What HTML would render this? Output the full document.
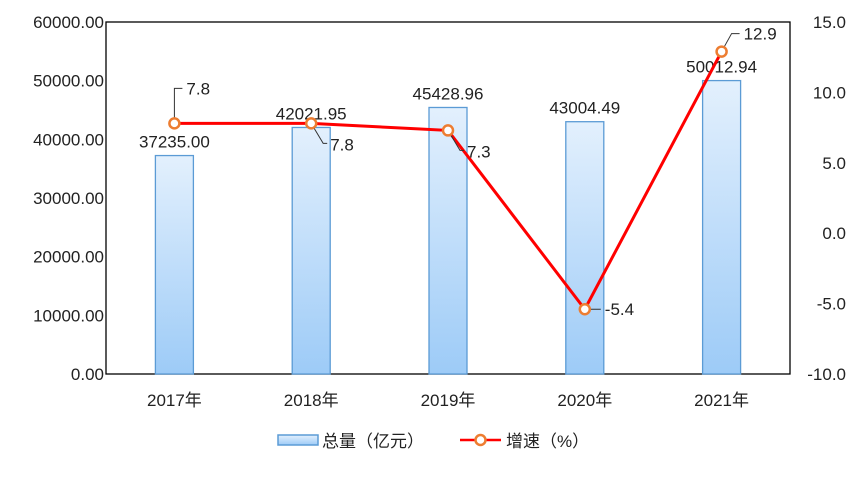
<!DOCTYPE html>
<html><head><meta charset="utf-8"><style>
body{margin:0;background:#fff}
svg text{font-family:"Liberation Sans","Noto Sans CJK SC",sans-serif;fill:#222}
</style></head><body>
<svg id="c" width="865" height="472" xmlns="http://www.w3.org/2000/svg">
<defs><linearGradient id="g" x1="0" y1="0" x2="0" y2="1"><stop offset="0" stop-color="#e3f0fd"/><stop offset="1" stop-color="#9dcbf7"/></linearGradient></defs>
</svg>
<script>
const categories=["2017年","2018年","2019年","2020年","2021年"];
const totals=[37235.00,42021.95,45428.96,43004.49,50012.94];
const growth=[7.8,7.8,7.3,-5.4,12.9];
const leftTicks=[0,10000,20000,30000,40000,50000,60000];
const rightTicks=[-10,-5,0,5,10,15];
const svg=document.getElementById('c');const NS='http://www.w3.org/2000/svg';
function mk(t,a,p){const e=document.createElementNS(NS,t);for(const k in a)e.setAttribute(k,a[k]);(p||svg).appendChild(e);return e;}
const L=106,R=790,T=22,B=374;const FS=17;
const x=i=>L+(R-L)/categories.length*(i+0.5);
const yL=v=>B-(v-0)/(60000)*(B-T);
const yR=v=>B-(v+10)/25*(B-T);
let fr=mk('rect',{x:L,y:T,width:R-L,height:B-T,fill:'none',stroke:'#000','stroke-width':1.3});

leftTicks.forEach(v=>{let t=mk('text',{x:L-2,y:yL(v)+6,'text-anchor':'end','font-size':FS});t.textContent=v.toFixed(2);
});
rightTicks.forEach(v=>{let t=mk('text',{x:846,y:yR(v)+6,'text-anchor':'end','font-size':FS});t.textContent=v.toFixed(1);
});
categories.forEach((c,i)=>{let t=mk('text',{x:x(i),y:406,'text-anchor':'middle','font-size':FS});t.textContent=c;
});
totals.forEach((v,i)=>{let b=mk('rect',{x:x(i)-19,y:yL(v),width:38,height:B-yL(v),fill:'url(#g)',stroke:'#5b9bd5','stroke-width':1.3});

let t=mk('text',{x:x(i),y:yL(v)-8,'text-anchor':'middle','font-size':FS});t.textContent=v.toFixed(2);
});
let ln=mk('polyline',{points:growth.map((v,i)=>x(i)+','+yR(v)).join(' '),fill:'none',stroke:'#ff0000','stroke-width':3});

growth.forEach((v,i)=>{const px=x(i),py=yR(v);
let pts=i==0?`${px},${py} ${px},${py-35} ${px+8},${py-35}`:i==4?`${px},${py} ${px+10},${py-18} ${px+18},${py-18}`:i==3?`${px},${py} ${px+16},${py}`:`${px},${py} ${px+12},${py+20} ${px+16},${py+20}`;
let ld=mk('polyline',{points:pts,fill:'none',stroke:'#333','stroke-width':1});

let c=mk('circle',{cx:px,cy:py,r:5,fill:'#fff',stroke:'#ed7d31','stroke-width':2.5});

let tx=i==0?px+12:i==4?px+22:i==3?px+20:px+19,ty=i==0?py-29:i==4?py-12:i==3?py+6:py+27;
let t=mk('text',{x:tx,y:ty,'font-size':FS});t.textContent=v.toFixed(1);
});
let lg=mk('g',{});
let r1=mk('rect',{x:278,y:435,width:40,height:10,fill:'url(#g)',stroke:'#5b9bd5','stroke-width':1.5},lg);

let t1=mk('text',{x:322,y:447,'font-size':FS},lg);t1.textContent='总量（亿元）';

let l2=mk('line',{x1:460,y1:440,x2:501,y2:440,stroke:'#ff0000','stroke-width':2.5},lg);

let c2=mk('circle',{cx:480.5,cy:440,r:5,fill:'#fff',stroke:'#ed7d31','stroke-width':2.5},lg);

let t2=mk('text',{x:506,y:447,'font-size':FS},lg);t2.textContent='增速（%）';

</script>
</body></html>
